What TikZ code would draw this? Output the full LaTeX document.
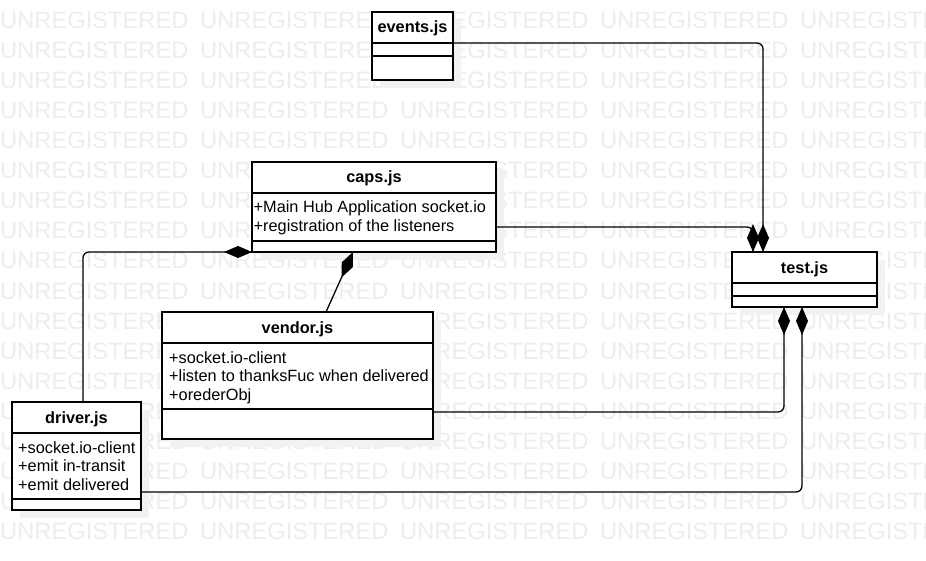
\documentclass[tikz,border=0pt]{standalone}
\usepackage{fontspec}
\setmainfont{Liberation Sans}
\usetikzlibrary{calc}
\begin{document}
\begin{tikzpicture}[x=1pt,y=-1pt,
  box/.style={draw=black, line width=1.3pt, fill=white, inner sep=0pt, outer sep=0pt},
  shade/.style={fill=black!5},
  sep/.style={line width=1.3pt},
  title/.style={font=\fontsize{16.3}{19}\selectfont\bfseries, anchor=base, inner sep=0pt},
  attr/.style={font=\fontsize{16.3}{19}\selectfont, anchor=base west, inner sep=0pt},
  conn/.style={line width=1.3pt, rounded corners=6pt},
  wm/.style={font=\fontsize{23.7}{28}\selectfont, text=black!7, anchor=base west, inner sep=0pt},
  umldiam/.pic={\fill[black] (0,0) -- (14,6) -- (28,0) -- (14,-6) -- cycle;}
]
\fill[white] (0,0) rectangle (926,561);
\useasboundingbox (0,0) rectangle (926,561);
% watermark
\begin{scope}
\clip (0,0) rectangle (926,561);
\foreach \r in {0,...,17}{
  \foreach \c in {0,...,4}{
    \node[wm] (wm-\r-\c) at (200*\c, 29+30*\r) {UNREGISTERED};
  }
}
\end{scope}
% shadows
\fill[shade] (380,20) rectangle ++(81,68);
\fill[shade] (260,170) rectangle ++(244,90);
\fill[shade] (740,260) rectangle ++(145,55);
\fill[shade] (170,320) rectangle ++(271,127);
\fill[shade] (20,410) rectangle ++(129,108);

% events.js
\node[box, minimum width=81pt, minimum height=68pt] (events) at (412.5,46) {};
\draw[sep] ($(events.north west)+(0,31)$) -- ($(events.north east)+(0,31)$);
\draw[sep] ($(events.north west)+(0,44)$) -- ($(events.north east)+(0,44)$);
\node[title] (events-t) at ($(events.north)+(0,21)$) {events.js};

% caps.js
\node[box, minimum width=244pt, minimum height=90pt] (caps) at (374,207) {};
\draw[sep] ($(caps.north west)+(0,31)$) -- ($(caps.north east)+(0,31)$);
\draw[sep] ($(caps.north west)+(0,79)$) -- ($(caps.north east)+(0,79)$);
\node[title] (caps-t) at ($(caps.north)+(0,21)$) {caps.js};
\node[attr] (caps-a1) at ($(caps.north west)+(1.5,51)$) {+Main Hub Application socket.io};
\node[attr] (caps-a2) at ($(caps.north west)+(1.5,69.5)$) {+registration of the listeners};

% test.js
\node[box, minimum width=145pt, minimum height=55pt] (test) at (804.5,279.5) {};
\draw[sep] ($(test.north west)+(0,31)$) -- ($(test.north east)+(0,31)$);
\draw[sep] ($(test.north west)+(0,44)$) -- ($(test.north east)+(0,44)$);
\node[title] (test-t) at ($(test.north)+(0,21)$) {test.js};

% vendor.js
\node[box, minimum width=271pt, minimum height=127pt] (vendor) at (297.5,375.5) {};
\draw[sep] ($(vendor.north west)+(0,31)$) -- ($(vendor.north east)+(0,31)$);
\draw[sep] ($(vendor.north west)+(0,97)$) -- ($(vendor.north east)+(0,97)$);
\node[title] (vendor-t) at ($(vendor.north)+(0,21)$) {vendor.js};
\node[attr] (vendor-a1) at ($(vendor.north west)+(7,51)$) {+socket.io-client};
\node[attr] (vendor-a2) at ($(vendor.north west)+(7,69.5)$) {+listen to thanksFuc when delivered};
\node[attr] (vendor-a3) at ($(vendor.north west)+(7,88)$) {+orederObj};

% driver.js
\node[box, minimum width=129pt, minimum height=108pt] (driver) at (76.5,456) {};
\draw[sep] ($(driver.north west)+(0,31)$) -- ($(driver.north east)+(0,31)$);
\draw[sep] ($(driver.north west)+(0,97)$) -- ($(driver.north east)+(0,97)$);
\node[title] (driver-t) at ($(driver.north)+(0,21)$) {driver.js};
\node[attr] (driver-a1) at ($(driver.north west)+(6,51)$) {+socket.io-client};
\node[attr] (driver-a2) at ($(driver.north west)+(6,69.5)$) {+emit in-transit};
\node[attr] (driver-a3) at ($(driver.north west)+(6,88)$) {+emit delivered};

% connectors
\draw[conn] ($(events.north east)+(0,31)$) -| ($(test.north west)+(31,0)$);
\draw[conn] ($(caps.north east)+(0,65)$) -| ($(test.north west)+(21,0)$);
\draw[conn] (caps.south west) -| ($(driver.north west)+(71,0)$);
\draw[conn] ($(caps.south west)+(101,0)$) -- ($(vendor.north west)+(164,0)$);
\draw[conn] ($(vendor.north east)+(0,100)$) -| ($(test.south west)+(52,0)$);
\draw[conn] ($(driver.north east)+(0,90)$) -| ($(test.south west)+(70,0)$);

% composition diamonds
\pic[rotate=90] at ($(test.north west)+(31,0)$) {umldiam};
\pic[rotate=90] at ($(test.north west)+(21,0)$) {umldiam};
\pic[rotate=-90] at ($(test.south west)+(52,0)$) {umldiam};
\pic[rotate=-90] at ($(test.south west)+(70,0)$) {umldiam};
\pic[rotate=180] at (caps.south west) {umldiam};
\pic[rotate=-114.2] at ($(caps.south west)+(101,0)$) {umldiam};
\end{tikzpicture}
\end{document}
